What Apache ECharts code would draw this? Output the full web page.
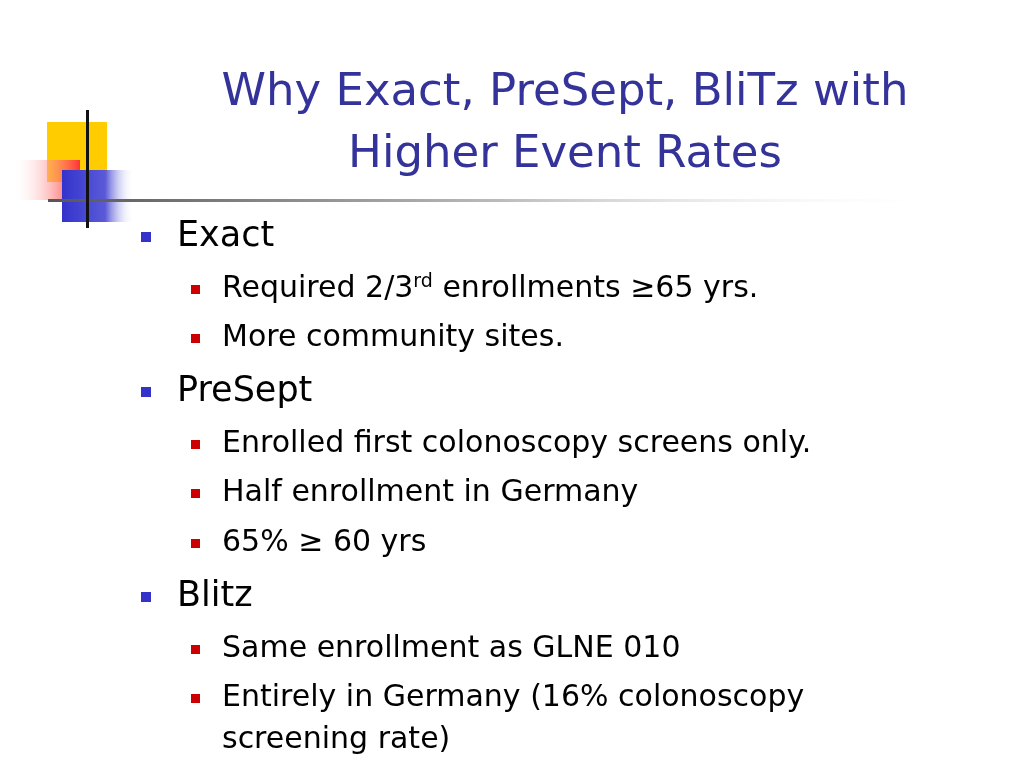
<!DOCTYPE html>
<html><head><meta charset="utf-8">
<script src="https://cdn.jsdelivr.net/npm/echarts@6/dist/echarts.min.js"></script>
<style>html,body{margin:0;padding:0;background:#fff}#c{width:1024px;height:768px}</style>
</head><body><div id="c"></div>
<script>
const titleLines = ["Why Exact, PreSept, BliTz with", "Higher Event Rates"];
const bulletTexts = ["Exact", "{n|Required 2/3}{s|rd}{n| enrollments ≥65 yrs.}", "More community sites.", "PreSept",
  "Enrolled first colonoscopy screens only.", "Half enrollment in Germany", "65% ≥ 60 yrs", "Blitz",
  "Same enrollment as GLNE 010", "Entirely in Germany (16% colonoscopy", "screening rate)"];
const bulletLevels = [1, 2, 2, 1, 2, 2, 2, 1, 2, 2, 0];
const bulletY = [237, 289, 338, 392, 444, 493, 543, 597, 649, 698, 740];

const chart = echarts.init(document.getElementById('c'));
const FONT = 'DejaVu Sans';
const g = [];
g.push({type:'rect', shape:{x:47,y:122,width:60,height:60}, style:{fill:'#ffcc00'}});
g.push({type:'rect', shape:{x:12,y:160,width:68,height:40}, style:{fill:new echarts.graphic.LinearGradient(1,0,0,0,[{offset:0,color:'#ff3333'},{offset:1,color:'rgba(255,255,255,0)'}])}});
g.push({type:'rect', shape:{x:62,y:170,width:72,height:52}, style:{fill:new echarts.graphic.LinearGradient(0,0,1,0,[{offset:0,color:'#3333cc'},{offset:0.6,color:'#5a5ad8'},{offset:1,color:'rgba(255,255,255,0)'}])}});
g.push({type:'rect', shape:{x:48,y:199,width:900,height:3}, style:{fill:new echarts.graphic.LinearGradient(0,0,1,0,[{offset:0,color:'#555'},{offset:0.5,color:'#bbb'},{offset:1,color:'rgba(255,255,255,0)'}])}});
g.push({type:'rect', shape:{x:86,y:110,width:3,height:118}, style:{fill:'#111'}});
titleLines.forEach((t,i)=>g.push({type:'text', x:565, y:93+i*62, style:{text:t, font:'45px '+FONT, fill:'#333399', align:'center', verticalAlign:'middle'}}));
bulletTexts.forEach((t,i)=>{
  const lv = bulletLevels[i], y = bulletY[i];
  if (lv===1) g.push({type:'rect', shape:{x:141,y:y-5,width:10,height:10}, style:{fill:'#3333cc'}});
  if (lv===2) g.push({type:'rect', shape:{x:191,y:y-4,width:9,height:9}, style:{fill:'#cc0000'}});
  const x = lv===1 ? 177 : 222;
  const size = lv===1 ? 35 : 30;
  g.push({type:'text', x:x, y:y, style:{text:t, font:size+'px '+FONT, fill:'#000', verticalAlign:'middle',
    rich:{n:{fontSize:size,fontFamily:FONT,color:'#000'}, s:{fontSize:19,fontFamily:FONT,color:'#000',verticalAlign:'top',padding:[0,0,14,0]}}}});
});
chart.setOption({graphic:g});
</script></body></html>
